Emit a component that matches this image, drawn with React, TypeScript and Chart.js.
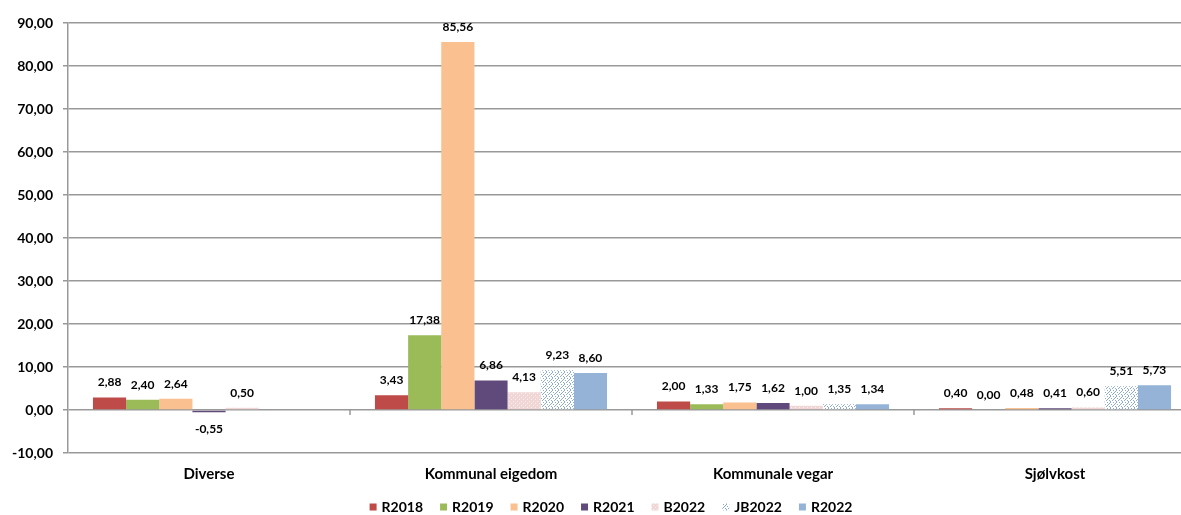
import { useEffect, useRef } from "react";
import { Chart, registerables } from "chart.js";

Chart.register(...registerables);

const categories = ["Diverse", "Kommunal eigedom", "Kommunale vegar", "Sjølvkost"];
const seriesNames = ["R2018", "R2019", "R2020", "R2021", "B2022", "JB2022", "R2022"];
const r2018 = [2.88, 3.43, 2.0, 0.4];
const r2019 = [2.4, 17.38, 1.33, 0.0];
const r2020 = [2.64, 85.56, 1.75, 0.48];
const r2021 = [-0.55, 6.86, 1.62, 0.41];
const b2022 = [0.5, 4.13, 1.0, 0.6];
const jb2022 = [null, 9.23, 1.35, 5.51];
const r2022 = [null, 8.6, 1.34, 5.73];
const yMin = -10;
const yMax = 90;
const yStep = 10;

const FONT = 'Lato, "Open Sans", sans-serif';
const LEGEND_CENTER_X = 611;
const LEGEND_Y = 507;

function fmt(v: number): string {
  return Number(v).toFixed(2).replace(".", ",");
}

function dotPattern(base: string, dot: string, size: number, dots: [number, number][]) {
  const c = document.createElement("canvas");
  c.width = size;
  c.height = size;
  const g = c.getContext("2d")!;
  g.fillStyle = base;
  g.fillRect(0, 0, size, size);
  g.fillStyle = dot;
  dots.forEach(([x, y]) => g.fillRect(x, y, 1, 1));
  return g.createPattern(c, "repeat")!;
}

const valueLabels = {
  id: "valueLabels",
  afterDatasetsDraw(chart: any) {
    const ctx = chart.ctx;
    ctx.save();
    ctx.font = `bold 12px ${FONT}`;
    ctx.fillStyle = "#000";
    ctx.textAlign = "center";
    ctx.textBaseline = "middle";
    chart.data.datasets.forEach((ds: any, i: number) => {
      const meta = chart.getDatasetMeta(i);
      meta.data.forEach((el: any, j: number) => {
        const v = ds.data[j];
        if (v == null) return;
        const y = v < 0 ? el.y + 17 : el.y - 15;
        ctx.fillText(fmt(v), el.x, y);
      });
    });
    ctx.restore();
  },
};

const categoryTicks = {
  id: "categoryTicks",
  afterDatasetsDraw(chart: any) {
    const xs = chart.scales.x;
    const ys = chart.scales.y;
    const ctx = chart.ctx;
    const y0 = ys.getPixelForValue(0);
    ctx.save();
    ctx.strokeStyle = "#999";
    ctx.lineWidth = 1.5;
    for (let i = 1; i < categories.length; i++) {
      const x = (xs.getPixelForValue(i - 1) + xs.getPixelForValue(i)) / 2;
      ctx.beginPath();
      ctx.moveTo(x, y0);
      ctx.lineTo(x, y0 + 5);
      ctx.stroke();
    }
    ctx.restore();
  },
};

const customLegend = {
  id: "customLegend",
  afterDraw(chart: any) {
    const ctx = chart.ctx;
    ctx.save();
    ctx.font = `bold 14px ${FONT}`;
    const box = 7;
    const gapBox = 5;
    const gapItem = 17;
    const items = chart.data.datasets.map((ds: any) => ({
      text: ds.label,
      color: ds.backgroundColor,
      w: ctx.measureText(ds.label).width,
    }));
    const total =
      items.reduce((s: number, it: any) => s + box + gapBox + it.w, 0) + gapItem * (items.length - 1);
    let x = LEGEND_CENTER_X - total / 2;
    ctx.textBaseline = "middle";
    ctx.textAlign = "left";
    items.forEach((it: any) => {
      ctx.fillStyle = it.color;
      ctx.fillRect(x, LEGEND_Y - 3.5, box, box);
      ctx.fillStyle = "#000";
      ctx.fillText(it.text, x + box + gapBox, LEGEND_Y + 0.5);
      x += box + gapBox + it.w + gapItem;
    });
    ctx.restore();
  },
};

export default function App() {
  const ref = useRef<HTMLCanvasElement>(null);

  useEffect(() => {
    if (!ref.current) return;
    const b2022Fill = dotPattern("#F0D7D6", "#FBF0F0", 4, [[1, 1], [3, 3]]);
    const jbFill = dotPattern("#FFFFFF", "#8AAAD4", 6, [
      [0, 0], [3, 0], [1, 2], [4, 2], [5, 1], [2, 4], [5, 4], [0, 5], [3, 3],
    ]);
    const colors: any[] = ["#BE4B48", "#9BBB59", "#FAC090", "#604A7B", b2022Fill, jbFill, "#95B3D7"];
    const values = [r2018, r2019, r2020, r2021, b2022, jb2022, r2022];

    const chart = new Chart(ref.current, {
      type: "bar",
      data: {
        labels: categories,
        datasets: seriesNames.map((name, i) => ({
          label: name,
          data: values[i] as any,
          backgroundColor: colors[i],
          borderWidth: 0,
          categoryPercentage: 0.823,
          barPercentage: 1,
        })),
      },
      options: {
        responsive: false,
        animation: false,
        devicePixelRatio: 1,
        layout: { padding: { left: 0, right: 10, top: 23, bottom: 0 } },
        plugins: {
          tooltip: { enabled: false },
          legend: { display: false },
        },
        scales: {
          x: {
            grid: { display: false, drawTicks: false, tickLength: 0 },
            border: { display: false },
            ticks: {
              padding: 12,
              color: "#000",
              font: { family: FONT, size: 15, weight: "bold" },
              maxRotation: 0,
            },
            afterFit: (s: any) => {
              s.height = 62;
            },
          },
          y: {
            min: yMin,
            max: yMax,
            ticks: {
              stepSize: yStep,
              padding: 10,
              color: "#000",
              font: { family: FONT, size: 14, weight: "bold" },
              callback: (v: any) => fmt(Number(v)),
            },
            grid: { color: "#999", lineWidth: 1.5, tickLength: 5 },
            border: { color: "#999", width: 1.5 },
            afterFit: (s: any) => {
              s.width = 68;
            },
          },
        },
      } as any,
      plugins: [valueLabels, categoryTicks, customLegend],
    });
    return () => chart.destroy();
  }, []);

  return (
    <div
      style={{
        position: "absolute",
        left: 0,
        top: 0,
        width: 1181,
        height: 515,
        overflow: "hidden",
        background: "#fff",
      }}
    >
      <canvas ref={ref} width={1206} height={515} style={{ display: "block", width: 1206, height: 515 }} />
    </div>
  );
}
